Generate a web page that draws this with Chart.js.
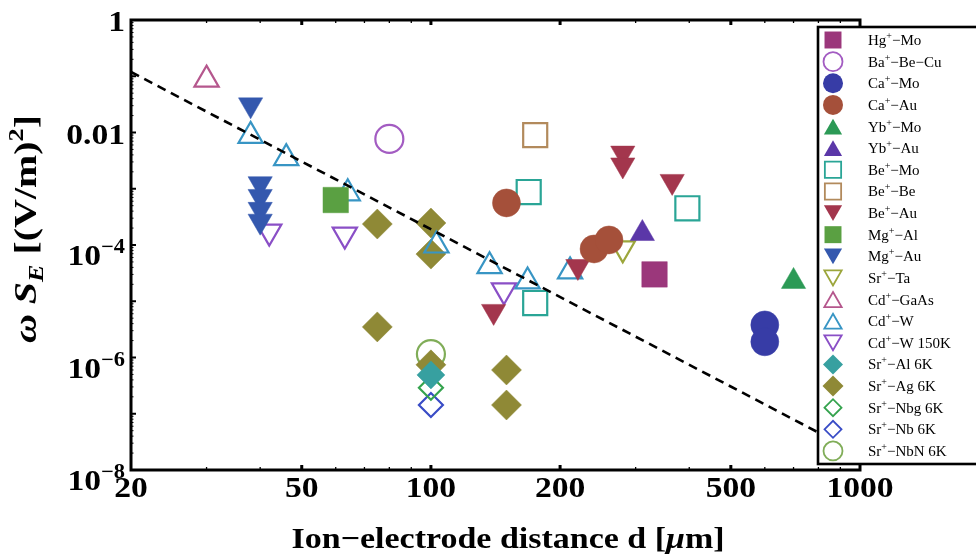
<!DOCTYPE html>
<html>
<head>
<meta charset="utf-8">
<script src="https://cdn.jsdelivr.net/npm/chart.js@4.4.1/dist/chart.umd.min.js"></script>
<style>
html,body{margin:0;padding:0;background:#ffffff;}
#wrap{width:976px;height:560px;position:relative;}
</style>
</head>
<body>
<div id="wrap"><canvas id="c" width="976" height="560"></canvas></div>
<script>
// ---------------- data ----------------
const seriesLabels = ['Hg⁺−Mo','Ba⁺−Be−Cu','Ca⁺−Mo','Ca⁺−Au','Yb⁺−Mo','Yb⁺−Au','Be⁺−Mo','Be⁺−Be','Be⁺−Au','Mg⁺−Al',
  'Mg⁺−Au','Sr⁺−Ta','Cd⁺−GaAs','Cd⁺−W','Cd⁺−W 150K','Sr⁺−Al 6K','Sr⁺−Ag 6K','Sr⁺−Nbg 6K','Sr⁺−Nb 6K','Sr⁺−NbN 6K'];

const hgMoD = [332];             const hgMoV = [3.0e-5];
const baBeCuD = [80];            const baBeCuV = [7.7e-3];
const caMoD = [600, 600];        const caMoV = [3.8e-6, 1.9e-6];
const caAuD = [150, 240, 260];   const caAuV = [5.6e-4, 8.5e-5, 1.23e-4];
const ybMoD = [700];             const ybMoV = [2.25e-5];
const ybAuD = [311];             const ybAuV = [1.6e-4];
const beMoD = [169, 175, 396];   const beMoV = [8.75e-4, 9.3e-6, 4.5e-4];
const beBeD = [175];             const beBeV = [9.0e-3];
const beAuD = [280, 280, 365, 220, 140]; const beAuV = [4.3e-3, 2.65e-3, 1.35e-3, 4.15e-5, 6.6e-6];
const mgAlD = [60];              const mgAlV = [6.3e-4];
const mgAuD = [38, 40, 40, 40, 40];      const mgAuV = [0.031, 1.23e-3, 7.3e-4, 4.3e-4, 2.65e-4];
const srTaD = [280];             const srTaV = [8.7e-5];
const cdGaAsD = [30];            const cdGaAsV = [0.087];
const cdWD = [38, 46, 64, 103, 137, 168, 211];
const cdWV = [8.7e-3, 3.5e-3, 8.3e-4, 9.8e-5, 4.2e-5, 2.25e-5, 3.4e-5];
const cdW150D = [42, 63, 148];   const cdW150V = [1.73e-4, 1.53e-4, 1.56e-5];
const srAlD = [100];             const srAlV = [4.9e-7];
const srAgD = [75, 100, 100, 75, 100, 150, 150];
const srAgV = [2.36e-4, 2.46e-4, 6.9e-5, 3.5e-6, 7.4e-7, 6.0e-7, 1.43e-7];
const srNbgD = [100];            const srNbgV = [2.9e-7];
const srNbD = [100];             const srNbV = [1.43e-7];
const srNbND = [100];            const srNbNV = [1.15e-6];

const fitLineD = [20, 1000];     const fitLineV = [0.119, 1.9e-8];

const xTickValues = [20, 50, 100, 200, 500, 1000];
const xTickLabels = ['20', '50', '100', '200', '500', '1000'];
const yTickValues = [1, 0.01, 1e-4, 1e-6, 1e-8];
const yTickLabels = ['1', '0.01', '10^−4', '10^−6', '10^−8'];

const xTitle = ['Ion−electrode distance d [', 'μ', 'm]'];
const yTitle = ['ω', ' ', 'S', 'E', ' [(V/m)', '2', ']'];

const seriesD = [hgMoD, baBeCuD, caMoD, caAuD, ybMoD, ybAuD, beMoD, beBeD, beAuD, mgAlD, mgAuD, srTaD, cdGaAsD, cdWD, cdW150D, srAlD, srAgD, srNbgD, srNbD, srNbND];
const seriesV = [hgMoV, baBeCuV, caMoV, caAuV, ybMoV, ybAuV, beMoV, beBeV, beAuV, mgAlV, mgAuV, srTaV, cdGaAsV, cdWV, cdW150V, srAlV, srAgV, srNbgV, srNbV, srNbNV];

// ---------------- styles ----------------
const styles = [
  {c:'#9b377b', s:'rect', fill:true, r:18, lr:12},
  {c:'#a35cc2', s:'circle', fill:false, r:14, lr:9.5},
  {c:'#373ca6', s:'circle', fill:true, r:14, lr:10},
  {c:'#a5503a', s:'circle', fill:true, r:14, lr:10},
  {c:'#2c9a56', s:'triangle', fill:true, r:14, lr:10.5},
  {c:'#5b37a8', s:'triangle', fill:true, r:14, lr:10.5},
  {c:'#2aa596', s:'rect', fill:false, r:17, lr:11.5},
  {c:'#b28a5c', s:'rect', fill:false, r:17, lr:11.5},
  {c:'#a3364d', s:'triangle', rot:180, fill:true, r:14, lr:10.5},
  {c:'#5aa042', s:'rect', fill:true, r:18, lr:12},
  {c:'#3458ae', s:'triangle', rot:180, fill:true, r:14, lr:10.5},
  {c:'#9ca63c', s:'triangle', rot:180, fill:false, r:14, lr:10},
  {c:'#b5578d', s:'triangle', fill:false, r:14, lr:10},
  {c:'#3895c4', s:'triangle', fill:false, r:14, lr:10},
  {c:'#8a4fc6', s:'triangle', rot:180, fill:false, r:14, lr:10},
  {c:'#37a0a0', s:'rectRot', fill:true, r:14, lr:10},
  {c:'#8f8936', s:'rectRot', fill:true, r:15, lr:10.5},
  {c:'#35a34e', s:'rectRot', fill:false, r:12, lr:8.5},
  {c:'#394cc6', s:'rectRot', fill:false, r:12, lr:8.5},
  {c:'#80ad58', s:'circle', fill:false, r:14, lr:9.5},
];

const SERIF = '"Liberation Serif", "DejaVu Serif", serif';
const PLOT = {left:131, top:20, right:860, bottom:470};

const datasets = [{
  type:'line', label:'fit', order:-1,
  data: fitLineD.map((d,i)=>({x:d, y:fitLineV[i]})),
  borderColor:'#000', borderWidth:2.6, borderDash:[9,6],
  pointRadius:0, fill:false, tension:0
}];
seriesLabels.forEach((lab, k) => {
  const st = styles[k];
  datasets.push({
    type:'scatter', label:lab, order:k,
    data: seriesD[k].map((d,i)=>({x:d, y:seriesV[k][i]})),
    pointStyle: st.s, pointRotation: st.rot || 0, pointRadius: st.r, pointHoverRadius: st.r,
    pointBackgroundColor: st.fill ? st.c : 'rgba(0,0,0,0)',
    pointBorderColor: st.c, pointBorderWidth: st.fill ? 0.5 : 2.2,
    showLine:false
  });
});

function drawRuns(ctx, runs, x, y, align, sx){
  ctx.save();
  let w = 0;
  runs.forEach(r => { ctx.font = r.f; r.w = ctx.measureText(r.t).width; w += r.w; });
  if (sx === 'fit') sx = 1; 
  const tw = w * sx;
  let start = align === 'right' ? x - tw : (align === 'center' ? x - tw/2 : x);
  ctx.translate(start, y);
  ctx.scale(sx, 1);
  ctx.textAlign = 'left'; ctx.textBaseline = 'alphabetic';
  let cx = 0;
  runs.forEach(r => { ctx.font = r.f; ctx.fillText(r.t, cx, r.dy || 0); cx += r.w; });
  ctx.restore();
  return w;
}
function runsWidth(ctx, runs){
  let w = 0; runs.forEach(r => { ctx.font = r.f; w += ctx.measureText(r.t).width; }); return w;
}

function drawMarker(ctx, style, x, y, r){
  ctx.save();
  ctx.beginPath();
  const rot = (style.rot || 0) * Math.PI / 180;
  if (style.s === 'circle') {
    ctx.arc(x, y, r, 0, Math.PI*2);
  } else if (style.s === 'rect') {
    const h = r * Math.SQRT1_2;
    ctx.rect(x-h, y-h, 2*h, 2*h);
  } else if (style.s === 'rectRot') {
    ctx.moveTo(x-r, y); ctx.lineTo(x, y-r); ctx.lineTo(x+r, y); ctx.lineTo(x, y+r); ctx.closePath();
  } else if (style.s === 'triangle') {
    let a = rot;
    ctx.moveTo(x + Math.sin(a)*r, y - Math.cos(a)*r);
    a += 2*Math.PI/3; ctx.lineTo(x + Math.sin(a)*r, y - Math.cos(a)*r);
    a += 2*Math.PI/3; ctx.lineTo(x + Math.sin(a)*r, y - Math.cos(a)*r);
    ctx.closePath();
  }
  if (style.fill) { ctx.fillStyle = style.c; ctx.fill(); }
  else { ctx.strokeStyle = style.c; ctx.lineWidth = 1.8; ctx.stroke(); }
  ctx.restore();
}

const decorPlugin = {
  id:'decor',
  afterDraw(chart){
    const ctx = chart.ctx;
    const xs = chart.scales.x, ys = chart.scales.y;
    const a = chart.chartArea;
    ctx.save();
    // frame
    ctx.strokeStyle = '#000'; ctx.lineWidth = 3;
    ctx.strokeRect(a.left, a.top, a.right - a.left, a.bottom - a.top);
    // x ticks (bottom & top, inward)
    ctx.lineWidth = 1.3;
    for (let dec = 10; dec <= 1000; dec *= 10) {
      for (let m = 1; m <= 9; m++) {
        const v = m * dec;
        if (v <= 20 || v >= 1000) continue;
        const px = xs.getPixelForValue(v);
        const major = xTickValues.includes(v);
        const len = major ? 5 : 3;
        ctx.lineWidth = major ? 3 : 1.3;
        ctx.beginPath();
        ctx.moveTo(px, a.bottom); ctx.lineTo(px, a.bottom - len);
        ctx.moveTo(px, a.top); ctx.lineTo(px, a.top + len);
        ctx.stroke();
      }
    }
    // y ticks (left, inward)
    for (let e = -8; e <= 0; e++) {
      for (let m = 1; m <= 9; m++) {
        const v = m * Math.pow(10, e);
        if (v <= 1e-8 || v >= 1) continue;
        const py = ys.getPixelForValue(v);
        const major = m === 1;
        ctx.lineWidth = major ? 2 : 1;
        ctx.beginPath();
        ctx.moveTo(a.left, py); ctx.lineTo(a.left + (major ? 5 : 2.5), py);
        ctx.stroke();
      }
    }
    ctx.fillStyle = '#000';
    const big = 'bold 30px ' + SERIF, sup = 'bold 20px ' + SERIF;
    const SX = 1.12;
    // x tick labels
    xTickValues.forEach((v, i) => {
      drawRuns(ctx, [{t:xTickLabels[i], f:big}], xs.getPixelForValue(v), 497, 'center', SX);
    });
    // y tick labels
    yTickValues.forEach((v, i) => {
      const py = ys.getPixelForValue(v);
      const lab = yTickLabels[i];
      if (lab.includes('^')) {
        const [b, ex] = lab.split('^');
        drawRuns(ctx, [{t:b, f:big}, {t:ex, f:sup, dy:-12}], 125, py + 20, 'right', SX);
      } else {
        drawRuns(ctx, [{t:lab, f:big}], 125, py + 11, 'right', SX);
      }
    });
    // x title
    const xr = [{t:xTitle[0], f:big}, {t:xTitle[1], f:'italic bold 30px ' + SERIF}, {t:xTitle[2], f:big}];
    const xw = runsWidth(ctx, xr);
    drawRuns(ctx, xr, 508, 548, 'center', 433 / xw);
    // y title (rotated)
    const yf = 'bold 32px ' + SERIF, yfi = 'italic bold 32px ' + SERIF;
    const yr = [{t:yTitle[0], f:yfi}, {t:yTitle[1], f:yf}, {t:yTitle[2], f:yfi},
                {t:yTitle[3], f:'italic bold 21px ' + SERIF, dy:7}, {t:yTitle[4], f:yf},
                {t:yTitle[5], f:'bold 21px ' + SERIF, dy:-13}, {t:yTitle[6], f:yf}];
    const yw = runsWidth(ctx, yr);
    ctx.save();
    ctx.translate(36, 229);
    ctx.rotate(-Math.PI/2);
    drawRuns(ctx, yr, 0, 0, 'center', 228 / yw);
    ctx.restore();

    // legend box
    const L = {x:818, y:27, w:170, h:437};
    ctx.fillStyle = '#fff';
    ctx.fillRect(L.x, L.y, L.w, L.h);
    ctx.strokeStyle = '#000'; ctx.lineWidth = 2.6;
    ctx.strokeRect(L.x, L.y, L.w, L.h);
    const lf = '15px ' + SERIF, lsup = '10px ' + SERIF;
    seriesLabels.forEach((lab, k) => {
      const cy = 40 + k * 21.63;
      const st = styles[k];
      let my = cy;
      if (st.s === 'triangle') my = cy + (st.rot ? -st.lr*0.25 : st.lr*0.25);
      drawMarker(ctx, st, 833, my, st.lr);
      ctx.fillStyle = '#000';
      const parts = lab.split('⁺');
      drawRuns(ctx, [{t:parts[0], f:lf}, {t:'+', f:lsup, dy:-6}, {t:parts[1], f:lf}], 868, cy + 5, 'left', 1);
    });
    ctx.restore();
  }
};

new Chart(document.getElementById('c'), {
  data: { datasets },
  options: {
    responsive:false, animation:false, devicePixelRatio:1,
    layout:{ padding:{ left:PLOT.left, top:PLOT.top, right:976-PLOT.right, bottom:560-PLOT.bottom } },
    scales:{
      x:{ type:'logarithmic', min:20, max:1000, display:false },
      y:{ type:'logarithmic', min:1e-8, max:1, display:false }
    },
    plugins:{ legend:{display:false}, tooltip:{enabled:false}, title:{display:false} },
    events:[]
  },
  plugins:[decorPlugin]
});
</script>
</body>
</html>
